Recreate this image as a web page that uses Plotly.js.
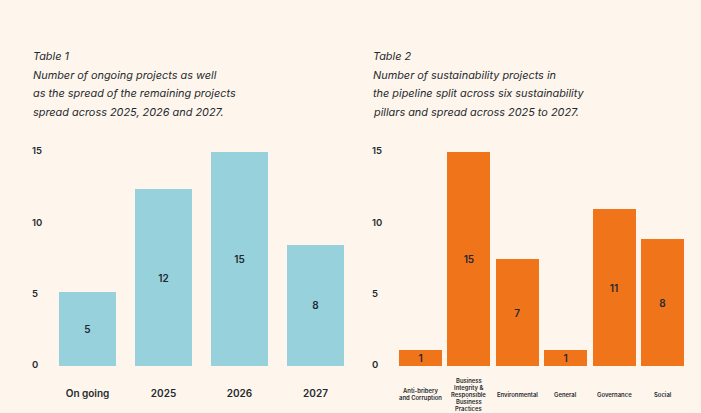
<!DOCTYPE html>
<html>
<head>
<meta charset="utf-8">
<script src="https://cdn.plot.ly/plotly-3.0.1.min.js"></script>
<style>
  html, body { margin: 0; padding: 0; background: #FEF6EC; }
  #chart { width: 701px; height: 413px; }
</style>
</head>
<body>
<div id="chart"></div>
<script>
// ---- Data ----
const periodCategories = ["On going", "2025", "2026", "2027"];
const periodBarHeights = [5.2, 12.4, 15, 8.5];   // drawn bar heights
const periodLabels = ["5", "12", "15", "8"];      // values printed in the bars

const pillarCategories = ["Anti-bribery and Corruption", "Business Integrity & Responsible Business Practices", "Environmental", "General", "Governance", "Social"];
const pillarLabelLines = [["Anti-bribery", "and Corruption"], ["Business", "Integrity &", "Responsible", "Business", "Practices"], ["Environmental"], ["General"], ["Governance"], ["Social"]];
const pillarBarHeights = [1.1, 15, 7.5, 1.1, 11, 8.9];
const pillarLabels = ["1", "15", "7", "1", "11", "8"];

const yTicks = [0, 5, 10, 15];

const title1Lines = ["Table 1", "Number of ongoing projects as well", "as the spread of the remaining projects", "spread across 2025, 2026 and 2027."];
const title2Lines = ["Table 2", "Number of sustainability projects in", "the pipeline split across six sustainability", "pillars and spread across 2025 to 2027."];

// ---- Layout helpers ----
const W = 701, H = 413;
const px = x => x / W;
const py = y => 1 - y / H;
const FONT = "Inter, 'DejaVu Sans', sans-serif";
const TXT = "#1f2a30";

const barText = { family: FONT, size: 10, color: TXT, weight: 600 };

const traces = [
  {
    type: "bar", x: periodCategories, y: periodBarHeights, text: periodLabels,
    xaxis: "x", yaxis: "y",
    marker: { color: "#96D1DC" }, width: 0.75,
    textposition: "inside", insidetextanchor: "middle", textangle: 0, constraintext: "none",
    textfont: barText, insidetextfont: barText,
    hoverinfo: "skip"
  },
  {
    type: "bar", x: pillarCategories, y: pillarBarHeights, text: pillarLabels,
    xaxis: "x2", yaxis: "y2",
    marker: { color: "#F07419" }, width: 0.89,
    textposition: "inside", insidetextanchor: "middle", textangle: 0, constraintext: "none",
    textfont: barText, insidetextfont: barText,
    hoverinfo: "skip"
  }
];

const annotations = [];
title1Lines.forEach((t, i) => annotations.push({
  xref: "paper", yref: "paper", x: px(31), y: py(56 + i * 18.6),
  xanchor: "left", yanchor: "middle", showarrow: false, text: t,
  font: { family: FONT, size: 10.9, color: TXT, style: "italic" }
}));
title2Lines.forEach((t, i) => annotations.push({
  xref: "paper", yref: "paper", x: px(371), y: py(56 + i * 18.6),
  xanchor: "left", yanchor: "middle", showarrow: false, text: t,
  font: { family: FONT, size: 10.9, color: TXT, style: "italic" }
}));
pillarLabelLines.forEach((lines, c) => {
  const center = c === 1 ? 394.5 : 394;
  lines.forEach((t, i) => annotations.push({
    xref: "x2", yref: "paper", x: pillarCategories[c],
    y: py(center + (i - (lines.length - 1) / 2) * 7.2),
    xanchor: "center", yanchor: "middle", showarrow: false, text: t,
    font: { family: FONT, size: 5.9, color: TXT, weight: 600 }
  }));
});

const yAxisCommon = {
  range: [0, 15], tickvals: yTicks, ticktext: yTicks.map(String),
  showgrid: false, zeroline: false, showline: false, ticks: "",
  ticklabelposition: "inside", ticklabeloverflow: "allow", ticklabelshift: -1,
  tickfont: { family: FONT, size: 9.5, color: TXT, weight: 600 },
  fixedrange: true
};

const layout = {
  width: W, height: H,
  margin: { l: 0, r: 0, t: 0, b: 0 },
  paper_bgcolor: "#FEF6EC", plot_bgcolor: "rgba(0,0,0,0)",
  showlegend: false, bargap: 0,
  xaxis: {
    domain: [px(29), px(353.5)], range: [-0.77, 3.5], type: "category",
    showgrid: false, zeroline: false, showline: false, ticks: "",
    ticklabelstandoff: 20,
    tickfont: { family: FONT, size: 10, color: TXT, weight: 600 },
    fixedrange: true
  },
  yaxis: Object.assign({}, yAxisCommon, { domain: [py(366), py(152)], anchor: "x" }),
  xaxis2: {
    domain: [px(369), px(686.7)], range: [-1.064, 5.5], type: "category",
    showgrid: false, zeroline: false, showline: false, ticks: "",
    showticklabels: false, anchor: "y2", fixedrange: true
  },
  yaxis2: Object.assign({}, yAxisCommon, { domain: [py(366), py(152)], anchor: "x2" }),
  annotations: annotations
};

Plotly.newPlot("chart", traces, layout, { displayModeBar: false, staticPlot: true });
</script>
</body>
</html>
